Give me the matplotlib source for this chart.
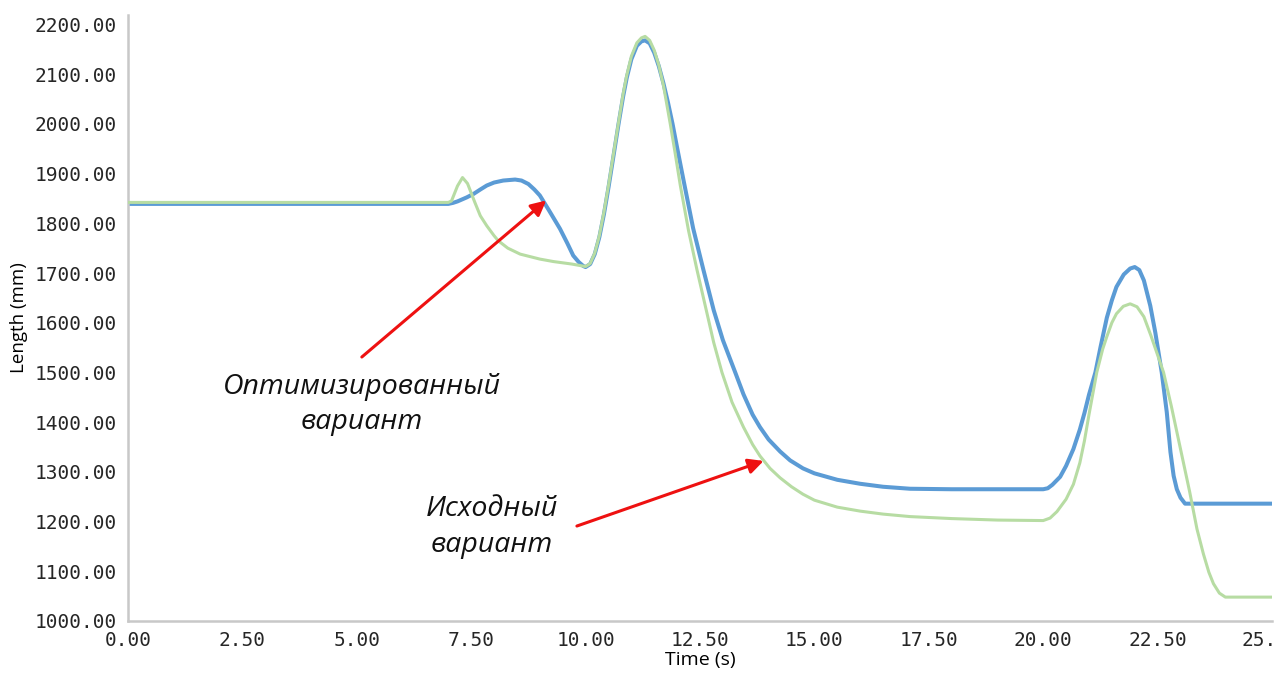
import matplotlib
matplotlib.use("Agg")
import matplotlib.pyplot as plt
from matplotlib.transforms import ScaledTranslation

# optimised variant (blue)
opt_t = [0, 7.0, 7.1, 7.2, 7.4, 7.55, 7.7, 7.84, 8.0, 8.2, 8.46, 8.6, 8.75, 8.88,
         9.0, 9.2, 9.44, 9.6, 9.73, 9.85, 9.95, 10.0, 10.1, 10.2, 10.3, 10.4,
         10.5, 10.6, 10.72, 10.82, 10.9, 11.0, 11.12, 11.22, 11.3, 11.4, 11.5,
         11.6, 11.7, 11.8, 11.9, 12.0, 12.15, 12.35, 12.57, 12.8, 13.0, 13.27,
         13.45, 13.65, 13.81, 14.0, 14.25, 14.47, 14.75, 15.0, 15.5, 16.0, 16.5,
         17.09, 18.0, 20.0, 20.1, 20.2, 20.37, 20.5, 20.66, 20.8, 20.9, 21.0,
         21.14, 21.25, 21.39, 21.5, 21.6, 21.76, 21.9, 22.0, 22.1, 22.2, 22.34,
         22.45, 22.59, 22.7, 22.78, 22.85, 22.92, 23.0, 23.1, 25.0]
opt_len = [1839, 1839, 1841, 1844, 1852, 1859, 1868, 1876, 1882, 1886, 1888, 1886,
           1879, 1868, 1856, 1826, 1789, 1760, 1735, 1722, 1714, 1712, 1718, 1738,
           1772, 1818, 1872, 1930, 2000, 2055, 2093, 2130, 2157, 2166, 2168, 2162,
           2143, 2116, 2082, 2043, 2000, 1952, 1882, 1790, 1708, 1625, 1565, 1500,
           1456, 1415, 1390, 1365, 1341, 1323, 1307, 1297, 1284, 1276, 1270, 1266,
           1265, 1265, 1267, 1274, 1290, 1312, 1346, 1385, 1418, 1455, 1500, 1550,
           1610, 1645, 1672, 1697, 1709, 1712, 1706, 1685, 1634, 1580, 1500, 1420,
           1340, 1292, 1265, 1248, 1236, 1236]

# original variant (green)
orig_t = [0, 7.0, 7.07, 7.2, 7.31, 7.42, 7.58, 7.7, 7.84, 8.0, 8.09, 8.3, 8.57,
          9.0, 9.3, 9.7, 10.0, 10.1, 10.2, 10.3, 10.4, 10.5, 10.6, 10.72, 10.82,
          10.9, 11.0, 11.12, 11.22, 11.3, 11.4, 11.5, 11.6, 11.7, 11.85, 11.95,
          12.07, 12.25, 12.43, 12.6, 12.8, 12.98, 13.2, 13.45, 13.65, 13.81, 14.03,
          14.25, 14.5, 14.75, 15.0, 15.5, 16.0, 16.5, 17.09, 18.0, 19.0, 20.0,
          20.15, 20.3, 20.5, 20.66, 20.8, 20.9, 21.0, 21.17, 21.3, 21.39, 21.5,
          21.6, 21.75, 21.9, 22.05, 22.2, 22.35, 22.5, 22.63, 22.8, 23.0, 23.2,
          23.36, 23.5, 23.62, 23.72, 23.85, 23.98, 25.0]
orig_len = [1842, 1842, 1845, 1875, 1892, 1880, 1842, 1815, 1795, 1775, 1765, 1750,
            1738, 1728, 1723, 1718, 1713, 1719, 1740, 1775, 1822, 1876, 1934, 2003,
            2060, 2098, 2136, 2163, 2173, 2176, 2168, 2148, 2118, 2078, 2000, 1945,
            1876, 1785, 1708, 1640, 1560, 1500, 1440, 1390, 1355, 1332, 1307, 1288,
            1270, 1255, 1243, 1229, 1221, 1215, 1210, 1206, 1203, 1202, 1207, 1220,
            1245, 1275, 1318, 1362, 1415, 1500, 1547, 1572, 1600, 1618, 1633, 1638,
            1632, 1612, 1575, 1535, 1500, 1432, 1346, 1260, 1185, 1135, 1098, 1075,
            1056, 1048, 1048]

x_ticks = [0, 2.5, 5, 7.5, 10, 12.5, 15, 17.5, 20, 22.5, 25]
x_labels = ["0.00", "2.50", "5.00", "7.50", "10.00", "12.50", "15.00", "17.50",
            "20.00", "22.50", "25."]
y_ticks = list(range(1000, 2201, 100))
x_grid = [5, 10, 15, 20, 25]
y_grid = [1500, 2000]

fig = plt.figure(figsize=(12.85, 6.73), dpi=100)
ax = fig.add_axes([0.0996, 0.0773, 0.8903, 0.9004])

ax.plot(orig_t, orig_len, color="#b7dca3", linewidth=2.2, zorder=3)
ax.plot(opt_t, opt_len, color="#5b9bd5", linewidth=2.9, zorder=2)

ax.set_xlim(0, 25)
ax.set_ylim(1000, 2219)
ax.set_xticks(x_ticks)
ax.set_xticklabels(x_labels)
ax.set_yticks(y_ticks)
ax.set_yticklabels([f"{v:.2f}" for v in y_ticks])
ax.set_xticks(x_grid, minor=True)
ax.set_yticks(y_grid, minor=True)
ax.grid(which="minor", color="#d6d6d6", linewidth=1.6, zorder=0)
ax.grid(which="major", visible=False)
ax.tick_params(which="both", length=0)
ax.tick_params(axis="y", pad=8)
ax.tick_params(axis="x", pad=7)
for lbl in ax.get_xticklabels() + ax.get_yticklabels():
    lbl.set_family("DejaVu Sans Mono")
    lbl.set_fontsize(14)
    lbl.set_color("#262626")
# the last x label is cut at the right edge in the source
last = ax.get_xticklabels()[-1]
last.set_transform(last.get_transform() + ScaledTranslation(-0.13, 0, fig.dpi_scale_trans))

for side in ["top", "right"]:
    ax.spines[side].set_visible(False)
for side in ["left", "bottom"]:
    ax.spines[side].set_color("#c8c8c8")
    ax.spines[side].set_linewidth(1.8)

ax.set_xlabel("Time (s)", family="Open Sans", fontsize=14, labelpad=1)
ax.set_ylabel("Length (mm)", family="Open Sans", fontsize=13.5, labelpad=5)

arrow = dict(arrowstyle="-|>,head_length=0.9,head_width=0.45", color="#ee1111",
             linewidth=2.2, shrinkA=0, shrinkB=0)
ax.annotate("", xy=(9.14, 1846), xytext=(5.11, 1531), arrowprops=arrow, zorder=4)
ax.annotate("", xy=(13.89, 1322), xytext=(9.81, 1191), arrowprops=arrow, zorder=4)

ax.text(5.11, 1435, "Оптимизированный\nвариант", family="Open Sans", style="italic",
        fontsize=20.5, ha="center", va="center", linespacing=1.35, color="#111111")
ax.text(7.95, 1189, "Исходный\nвариант", family="Open Sans", style="italic",
        fontsize=20.5, ha="center", va="center", linespacing=1.4, color="#111111")

fig.savefig("out.png", dpi=100)
